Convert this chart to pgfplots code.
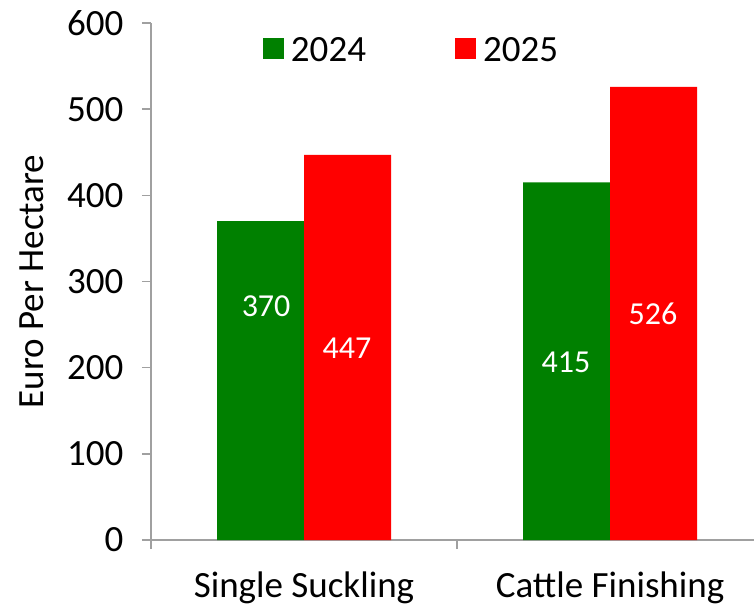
\documentclass[border=0pt]{standalone}
\usepackage{pgfplots}
\pgfplotsset{compat=1.18}
\usepackage{fontspec}
\setmainfont{Carlito}
\definecolor{bargreen}{HTML}{008000}
\definecolor{barred}{HTML}{FF0000}
\definecolor{axgray}{HTML}{A0A0A0}
\begin{document}
\begin{tikzpicture}
\begin{axis}[
  scale only axis, width=603pt, height=517pt,
  xmin=-0.5, xmax=1.47, ymin=0, ymax=600,
  axis lines*=left,
  ybar=0pt, bar width=87pt,
  xtick={0,1}, xticklabels={Single Suckling, Cattle Finishing},
  major x tick style={draw=none},
  extra x ticks={-0.5,0.5}, extra x tick labels={},
  extra x tick style={major x tick style={draw=axgray, line width=1.5pt}},
  ytick={0,100,200,300,400,500,600},
  yticklabels={0,100,200,300,400,500,600},
  tick align=outside, major tick length=9pt,
  axis line style={axgray, line width=1.5pt},
  tick style={axgray, line width=1.5pt},
  /pgf/number format/assume math mode=true,
  xticklabel style={font=\fontsize{37}{44}\selectfont, text=black, yshift=-19pt},
  yticklabel style={font=\fontsize{37}{44}\selectfont, text=black, xshift=-15pt},
  ylabel={Euro Per Hectare},
  ylabel style={font=\fontsize{37}{44}\selectfont, at={(axis description cs:-0.197,0.5)}, anchor=center},
  legend style={at={(axis description cs:0.432,0.947)}, anchor=center, draw=none, fill=none,
    font=\fontsize{37}{44}\selectfont, legend columns=2,
    /tikz/every even column/.append style={column sep=87pt},
    /tikz/every odd column/.append style={column sep=5pt}},
  legend image code/.code={\fill[#1] (0pt,-9pt) rectangle (21pt,12pt);},
]
\addplot[fill=bargreen, draw=none] coordinates {(0,370) (1,415)};
\addplot[fill=barred, draw=none] coordinates {(0,447) (1,526)};
\legend{2024,2025}
\node[white, font=\fontsize{32}{38}\selectfont] at (axis cs:-0.124,271.6) {370};
\node[white, font=\fontsize{32}{38}\selectfont] at (axis cs:0.14,222.8) {447};
\node[white, font=\fontsize{32}{38}\selectfont] at (axis cs:0.856,206.6) {415};
\node[white, font=\fontsize{32}{38}\selectfont] at (axis cs:1.14,262.3) {526};
\end{axis}
\pgfresetboundingbox
\path (-151pt,-66pt) rectangle (603pt,540pt);
\end{tikzpicture}
\end{document}
